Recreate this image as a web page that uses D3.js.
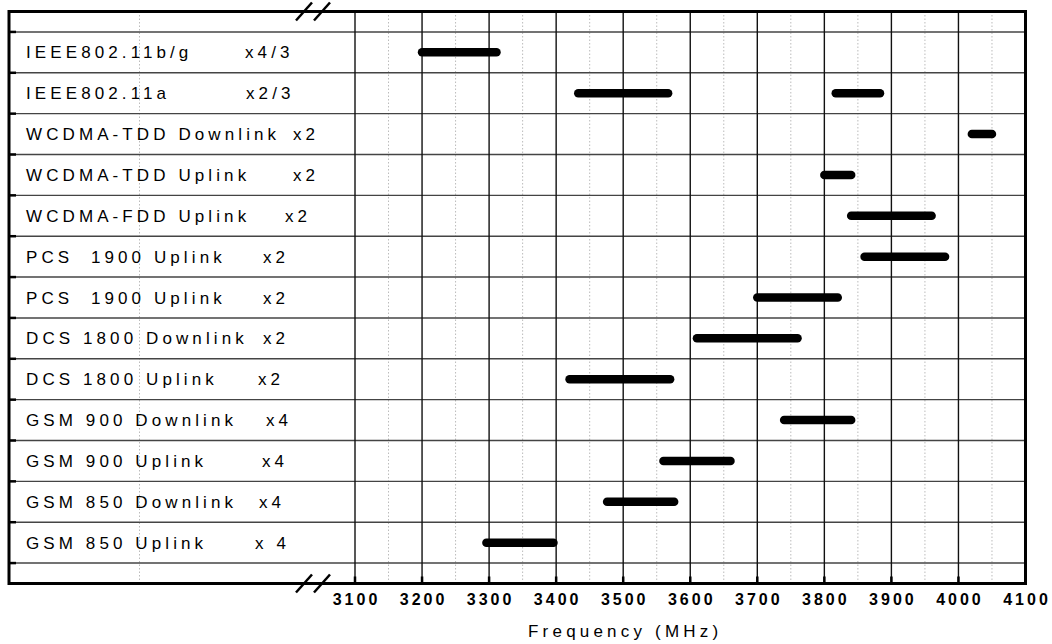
<!DOCTYPE html>
<html lang="en">
<head>
    <meta charset="UTF-8">
    <script src="https://d3js.org/d3.v7.min.js"></script>
    <title>Frequency plan</title>
    <style>
        body { margin: 0; background: white; }
        svg { display: block; font-family: "Liberation Sans", Arial, sans-serif; }
        .row-label { font-size: 17px; letter-spacing: 4.1px; fill: #000; }
        .tick-label { font-size: 16px; font-weight: bold; letter-spacing: 3px; fill: #000; }
        .axis-title { font-size: 17px; letter-spacing: 4.2px; fill: #000; }
    </style>
</head>
<body>
<div id="chart"></div>
<script>
    // ---- data ----
    const rowNames = [
        "IEEE802.11b/g", "IEEE802.11a", "WCDMA-TDD Downlink", "WCDMA-TDD Uplink",
        "WCDMA-FDD Uplink", "PCS  1900 Uplink", "PCS  1900 Uplink", "DCS 1800 Downlink",
        "DCS 1800 Uplink", "GSM 900 Downlink", "GSM 900 Uplink", "GSM 850 Downlink",
        "GSM 850 Uplink"
    ];
    const rowFactors = ["x4/3", "x2/3", "x2", "x2", "x2", "x2", "x2", "x2", "x2", "x4", "x4", "x4", "x 4"];

    // one entry per drawn band (row index, low MHz, high MHz)
    const bandRow  = [0, 1, 1, 2, 3, 4, 5, 6, 7, 8, 9, 10, 11, 12];
    const bandLow  = [3200, 3433, 3817, 4020, 3800, 3840, 3860, 3700, 3610, 3420, 3740, 3560, 3476, 3296];
    const bandHigh = [3311, 3567, 3883, 4050, 3840, 3960, 3980, 3820, 3760, 3570, 3840, 3660, 3576, 3396];

    const xTicks = [3100, 3200, 3300, 3400, 3500, 3600, 3700, 3800, 3900, 4000, 4100];
    const xMinor = [3150, 3250, 3350, 3450, 3550, 3650, 3750, 3850, 3950, 4050];

    // ---- layout ----
    const width = 1052, height = 644;
    const frame = { left: 9, top: 11.5, right: 1025.5, bottom: 583.5 };
    const axisStart = 355;        // where 3100 MHz sits, right of the axis break
    const labelX = 26;
    const factorX = [245, 246, 293, 293, 285, 263, 263, 263, 258, 266, 262, 259, 255];

    const svg = d3.select("#chart").append("svg")
        .attr("width", width)
        .attr("height", height);

    const x = d3.scaleLinear().domain([3100, 4100]).range([axisStart, frame.right]);
    const y = d3.scaleLinear().domain([0, rowNames.length + 1]).range([frame.top, frame.bottom]);
    const rowY = i => y(i + 1);

    // minor dotted gridlines
    svg.append("g")
        .selectAll("line")
        .data(xMinor)
        .join("line")
        .attr("x1", d => x(d)).attr("x2", d => x(d))
        .attr("y1", frame.top).attr("y2", frame.bottom)
        .attr("stroke", "#bbb")
        .attr("stroke-width", 1)
        .attr("stroke-dasharray", "1.5,2");

    // dotted line inside the label area
    svg.append("line")
        .attr("x1", 139.5).attr("x2", 139.5)
        .attr("y1", frame.top).attr("y2", frame.bottom)
        .attr("stroke", "#bbb")
        .attr("stroke-width", 1)
        .attr("stroke-dasharray", "1.5,2");

    // row separators
    const sepValues = d3.range(rowNames.length + 1).map(i => i + 0.5);
    svg.append("g")
        .selectAll("line")
        .data(sepValues)
        .join("line")
        .attr("x1", frame.left).attr("x2", frame.right)
        .attr("y1", d => y(d)).attr("y2", d => y(d))
        .attr("stroke", "#444")
        .attr("stroke-width", 1.4);

    // major vertical gridlines
    svg.append("g")
        .selectAll("line")
        .data(xTicks.slice(0, -1))
        .join("line")
        .attr("x1", d => x(d)).attr("x2", d => x(d))
        .attr("y1", frame.top).attr("y2", frame.bottom)
        .attr("stroke", "#111")
        .attr("stroke-width", 1.4);

    // bands
    svg.append("g")
        .selectAll("line")
        .data(bandRow.map((r, i) => ({ row: r, lo: bandLow[i], hi: bandHigh[i] })))
        .join("line")
        .attr("x1", d => x(d.lo)).attr("x2", d => x(d.hi))
        .attr("y1", d => rowY(d.row)).attr("y2", d => rowY(d.row))
        .attr("stroke", "#000")
        .attr("stroke-width", 8.5)
        .attr("stroke-linecap", "round");

    // frame
    svg.append("rect")
        .attr("x", frame.left).attr("y", frame.top)
        .attr("width", frame.right - frame.left)
        .attr("height", frame.bottom - frame.top)
        .attr("fill", "none")
        .attr("stroke", "#000")
        .attr("stroke-width", 3);

    // inward ticks on left frame
    svg.append("g")
        .selectAll("line")
        .data(sepValues)
        .join("line")
        .attr("x1", frame.left).attr("x2", frame.left + 7)
        .attr("y1", d => y(d)).attr("y2", d => y(d))
        .attr("stroke", "#000")
        .attr("stroke-width", 2.5);

    // inward ticks on bottom axis
    svg.append("g")
        .selectAll("line")
        .data(xTicks.slice(0, -1))
        .join("line")
        .attr("x1", d => x(d)).attr("x2", d => x(d))
        .attr("y1", frame.bottom).attr("y2", frame.bottom - 7)
        .attr("stroke", "#000")
        .attr("stroke-width", 2.5);

    // tick labels
    svg.append("g")
        .selectAll("text")
        .data(xTicks)
        .join("text")
        .attr("class", "tick-label")
        .attr("x", d => x(d) + 1.5)
        .attr("y", 605)
        .attr("text-anchor", "middle")
        .text(d => d);

    svg.append("text")
        .attr("class", "axis-title")
        .attr("x", x(3500) + 2)
        .attr("y", 637)
        .attr("text-anchor", "middle")
        .text("Frequency (MHz)");

    // row labels
    svg.append("g")
        .selectAll("text")
        .data(rowNames)
        .join("text")
        .attr("class", "row-label")
        .attr("x", labelX)
        .attr("y", (d, i) => rowY(i))
        .attr("dy", "0.36em")
        .style("white-space", "pre")
        .text(d => d);

    svg.append("g")
        .selectAll("text")
        .data(rowFactors)
        .join("text")
        .attr("class", "row-label")
        .attr("x", (d, i) => factorX[i])
        .attr("y", (d, i) => rowY(i))
        .attr("dy", "0.36em")
        .style("white-space", "pre")
        .text(d => d);

    // axis break marks
    function breakMark(cy) {
        const g = svg.append("g");
        [296, 314].forEach(bx => {
            g.append("line")
                .attr("x1", bx).attr("y1", cy + 9)
                .attr("x2", bx + 16).attr("y2", cy - 9)
                .attr("stroke", "#000")
                .attr("stroke-width", 2.5);
        });
    }
    breakMark(frame.top);
    breakMark(frame.bottom);
</script>
</body>
</html>
